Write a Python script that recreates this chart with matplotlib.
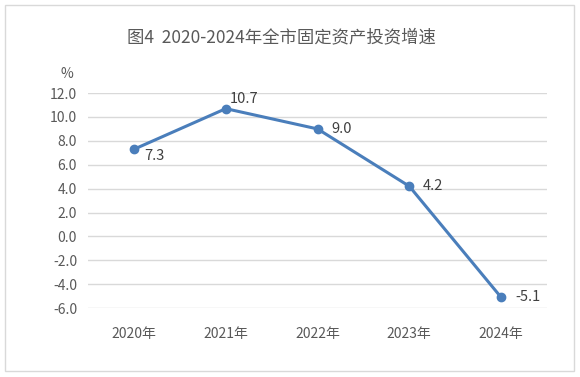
import matplotlib.pyplot as plt
from matplotlib.patches import Rectangle

plt.rcParams['font.family'] = ['Noto Sans CJK SC', 'DejaVu Sans']

years = ["2020年", "2021年", "2022年", "2023年", "2024年"]
growth = [7.3, 10.7, 9.0, 4.2, -5.1]
yticks = [-6.0, -4.0, -2.0, 0.0, 2.0, 4.0, 6.0, 8.0, 10.0, 12.0]
# label offsets in points (dx, dy), label alignment
label_pos = [(7, -5, 'left'), (3, 7, 'left'), (10, 0, 'left'), (10, 0, 'left'), (10, 0, 'left')]

text_color = "#595959"
line_color = "#4A7EBB"

fig = plt.figure(figsize=(5.8, 3.77), dpi=100)
fig.patches.append(Rectangle((0.009, 0.016), 0.981, 0.97, transform=fig.transFigure,
                             fill=False, edgecolor="#D9D9D9", linewidth=1))

ax = fig.add_axes([0.152, 0.183, 0.791, 0.570])
x = list(range(len(years)))
ax.plot(x, growth, color=line_color, linewidth=2.2, marker='o', markersize=6, zorder=3)

for i, v in enumerate(growth):
    dx, dy, ha = label_pos[i]
    ax.annotate(f"{v:.1f}", (i, v), xytext=(dx, dy), textcoords='offset points',
                ha=ha, va='center', fontsize=10.5, color="#404040")

ax.set_xlim(-0.5, len(years) - 0.5)
ax.set_ylim(-6, 12)
ax.set_yticks(yticks)
ax.set_yticklabels([f"{t:.1f}" for t in yticks])
ax.set_xticks(x)
ax.set_xticklabels(years)
ax.grid(axis='y', color="#D9D9D9", linewidth=1)
ax.set_axisbelow(True)
for s in ax.spines.values():
    s.set_visible(False)
ax.tick_params(length=0, labelsize=10, labelcolor=text_color)
ax.tick_params(axis='x', pad=14)
ax.tick_params(axis='y', pad=8)

fig.text(0.486, 0.9, "图4  2020-2024年全市固定资产投资增速", ha='center', va='center',
         fontsize=12.5, color=text_color)
fig.text(0.116, 0.805, "%", ha='center', va='center', fontsize=10, color=text_color)

fig.savefig("out.png", dpi=100)
